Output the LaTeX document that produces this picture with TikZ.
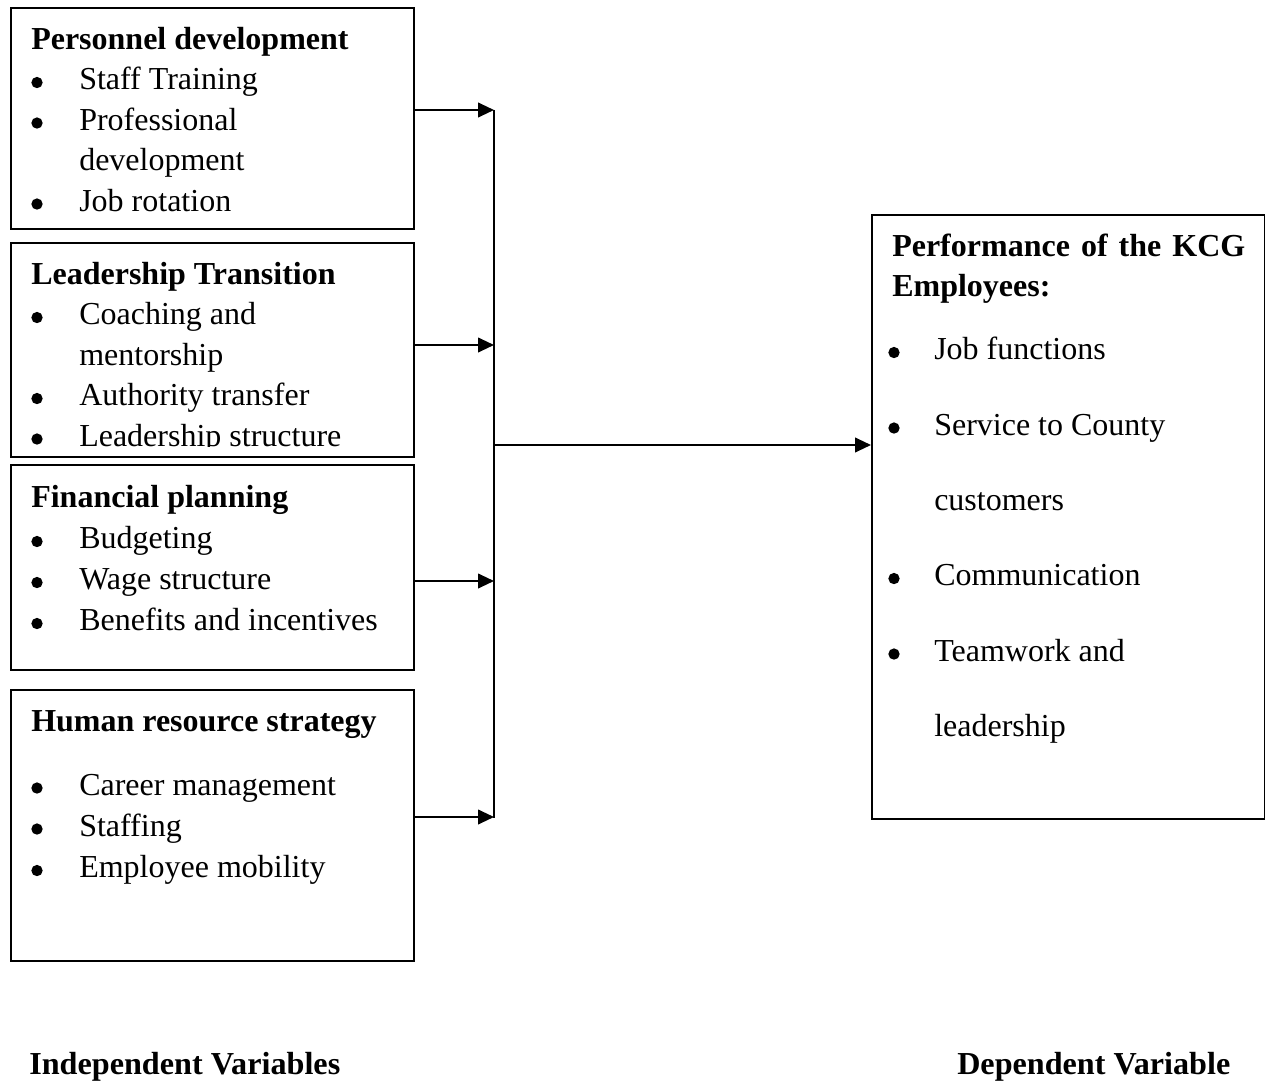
\documentclass[tikz,border=0pt]{standalone}
\usepackage{fontspec}
\setmainfont{Liberation Serif}
\usetikzlibrary{arrows.meta}
\begin{document}
\begin{tikzpicture}[x=0.75pt,y=-0.75pt,
  box/.style={draw, line width=1.5pt, anchor=north west, inner sep=0pt},
  txt/.style={anchor=base west, inner sep=0pt, yshift=-1.9pt, font=\fontsize{24}{29}\selectfont},
  hd/.style={anchor=base west, inner sep=0pt, yshift=-1.9pt, font=\fontsize{24}{29}\selectfont\bfseries},
  arr/.style={-{Triangle[length=12pt,width=11pt]}, line width=1.5pt},
  bul/.style={circle, fill, inner sep=0pt, yshift=-1.9pt, minimum size=8.5pt}]
\useasboundingbox (0,0) rectangle (1265,1081);
% boxes
\node[box, minimum width=302.25pt, minimum height=165.75pt] (b1) at (10,7) {};
\node[box, minimum width=302.25pt, minimum height=160.5pt] (b2) at (10,242) {};
\node[box, minimum width=302.25pt, minimum height=153.75pt] (b3) at (10,464) {};
\node[box, minimum width=302.25pt, minimum height=203.25pt] (b4) at (10,689) {};
\node[box, minimum width=294.75pt, minimum height=453pt] (perf) at (871,214) {};
% box 1
\node[hd] (h1) at (31,46.5) {Personnel development};
\node[bul] (d11) at (37,80) {};
\node[txt] (t11) at (79,87) {Staff Training};
\node[bul] (d12) at (37,120.5) {};
\node[txt] (t12) at (79,127.5) {Professional};
\node[txt] (t13) at (79,168) {development};
\node[bul] (d13) at (37,201.5) {};
\node[txt] (t14) at (79,208.5) {Job rotation};
% box 2
\node[hd] (h2) at (31,281.5) {Leadership Transition};
\node[bul] (d21) at (37,315) {};
\node[txt] (t21) at (79,322) {Coaching and};
\node[txt] (t22) at (79,362.5) {mentorship};
\node[bul] (d22) at (37,396) {};
\node[txt] (t23) at (79,403) {Authority transfer};
\node[bul] (d23) at (37,436.5) {};
\begin{scope}
\clip (0,0) rectangle (1265,446);
\node[txt] (t24) at (79,443.5) {Leadership structure};
\end{scope}
% box 3
\node[hd] (h3) at (31,505) {Financial planning};
\node[bul] (d31) at (37,539) {};
\node[txt] (t31) at (79,546) {Budgeting};
\node[bul] (d32) at (37,580) {};
\node[txt] (t32) at (79,587) {Wage structure};
\node[bul] (d33) at (37,621) {};
\node[txt] (t33) at (79,628) {Benefits and incentives};
% box 4
\node[hd] (h4) at (31,729) {Human resource strategy};
\node[bul] (d41) at (37,785.5) {};
\node[txt] (t41) at (79,792.5) {Career management};
\node[bul] (d42) at (37,826.5) {};
\node[txt] (t42) at (79,833.5) {Staffing};
\node[bul] (d43) at (37,868) {};
\node[txt] (t43) at (79,875) {Employee mobility};
% right box
\node[hd] (hp1) at (892,254) {\makebox[264.75pt][s]{Performance of the KCG}};
\node[hd] (hp2) at (892,294) {Employees:};
\node[bul] (dp1) at (894,350) {};
\node[txt] (tp1) at (934,357) {Job functions};
\node[bul] (dp2) at (894,425.5) {};
\node[txt] (tp2) at (934,432.5) {Service to County};
\node[txt] (tp3) at (934,508) {customers};
\node[bul] (dp3) at (894,576) {};
\node[txt] (tp4) at (934,583) {Communication};
\node[bul] (dp4) at (894,651.5) {};
\node[txt] (tp5) at (934,658.5) {Teamwork and};
\node[txt] (tp6) at (934,734) {leadership};
% bottom labels
\node[hd] (iv) at (29,1072) {\resizebox{233.25pt}{\height}{Independent Variables}};
\node[hd] (dv) at (957,1072) {\resizebox{204.75pt}{\height}{Dependent Variable}};
% connectors
\coordinate (bustop) at (494,110);
\coordinate (busbot) at (494,818);
\coordinate (a1) at (b1.east |- bustop);
\coordinate (y2) at (0,345);
\coordinate (y3) at (0,581);
\coordinate (y4) at (0,817);
\coordinate (jn) at (494,445);
\draw[line width=1.5pt] (bustop) -- (busbot);
\draw[arr] (a1) -- (bustop);
\draw[arr] (b2.east |- y2) -- (bustop |- y2);
\draw[arr] (b3.east |- y3) -- (bustop |- y3);
\draw[arr] (b4.east |- y4) -- (bustop |- y4);
\draw[arr] (jn) -- (jn -| perf.west);
\end{tikzpicture}
\end{document}
